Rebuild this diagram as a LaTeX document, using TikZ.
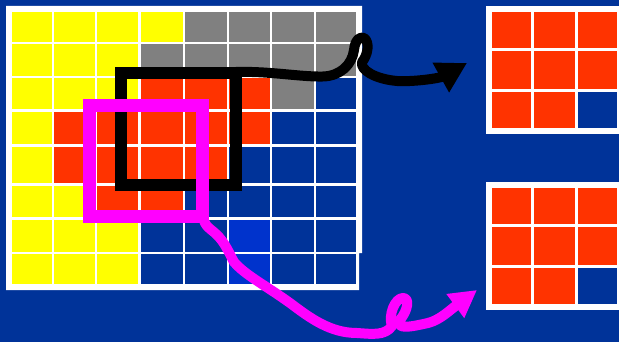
\documentclass[tikz,border=0pt]{standalone}
\usetikzlibrary{arrows.meta}
\definecolor{bg}{HTML}{003399}
\definecolor{cY}{HTML}{FFFF00}
\definecolor{cG}{HTML}{808080}
\definecolor{cR}{HTML}{FF3300}
\definecolor{cB}{HTML}{003399}
\definecolor{cL}{HTML}{0033CC}
\definecolor{mag}{HTML}{FF00FF}
\begin{document}
\begin{tikzpicture}[x=1pt,y=-1pt,
  blackbox/.style={draw=black,line width=12pt},
  magbox/.style={draw=mag,line width=13pt},
  blackcurve/.style={draw=black,line width=10pt,line cap=round,line join=round,-{Triangle[length=30pt,width=32pt]}},
  magcurve/.style={draw=mag,line width=10pt,line cap=round,line join=round,-{Triangle[length=27pt,width=28pt]}}]
\fill[bg] (0,0) rectangle (619,342);
\useasboundingbox (0,0) rectangle (619,342);
% left grid
\fill[white] (6,6) -- (362,6) -- (362,253) -- (359,253) -- (359,290) -- (6,290) -- cycle;
\foreach \r [count=\j from 0] in {{Y,Y,Y,Y,G,G,G,G},{Y,Y,Y,G,G,G,G,G},{Y,Y,Y,R,R,R,G,B},{Y,R,R,R,R,R,B,B},{Y,R,R,R,R,B,B,B},{Y,Y,R,R,B,B,B,B},{Y,Y,Y,B,B,L,B,B},{Y,Y,Y,B,B,L,B,B}}{
  \pgfmathsetmacro\yt{{12,44,78,112.3,146.7,186,220,254.3}[\j]}
  \pgfmathsetmacro\yb{{41.7,76,109.3,144,183.3,217.3,251.7,284}[\j]}
  \foreach \c [count=\i from 0] in \r {
    \pgfmathsetmacro\xl{{12,54,97.3,140.7,185,229,272.3,316.3}[\i]}
    \pgfmathsetmacro\xr{{51.7,95,138.3,182.7,226.7,270,314,356}[\i]}
    \fill[fill=c\c] (\xl,\yt) rectangle (\xr,\yb);
  }
}
% right grids
\foreach \oy in {0,176}{
  \fill[white] (486,6+\oy) rectangle (619,134+\oy);
  \foreach \r [count=\j from 0] in {{R,R,R},{R,R,R},{R,R,B}}{
    \pgfmathsetmacro\yt{{12,51,92}[\j]+\oy}
    \pgfmathsetmacro\yb{{48,89,128}[\j]+\oy}
    \foreach \c [count=\i from 0] in \r {
      \pgfmathsetmacro\xl{{492,534,578}[\i]}
      \pgfmathsetmacro\xr{{531,575,617}[\i]}
      \fill[fill=c\c] (\xl,\yt) rectangle (\xr,\yb);
    }
  }
}
% squares
\coordinate (bA) at (121,73);
\coordinate (bB) at (236,185);
\coordinate (mA) at (89.5,105.5);
\coordinate (mB) at (202.5,216.5);
\draw[blackbox] (bA) rectangle (bB);
% black connector
\coordinate (bstart) at (236,72);
\coordinate (btip) at (467,63);
\draw[blackcurve] (bstart) .. controls (270,71) and (300,77) .. (323,76.5)
  .. controls (340,76) and (352,65) .. (354,50)
  .. controls (355,40) and (360,36) .. (364,38)
  .. controls (370,42) and (368,55) .. (362,62)
  .. controls (360,70) and (375,79) .. (397,81)
  .. controls (415,82) and (440,78) .. (btip);
\draw[magbox] (mA) rectangle (mB);
% magenta connector
\coordinate (mstart) at (202,214);
\coordinate (mtip) at (477,290);
\draw[magcurve] (mstart) .. controls (205,228) and (210,228) .. (216,234)
  .. controls (225,242) and (230,255) .. (234,262)
  .. controls (245,275) and (265,285) .. (290,303)
  .. controls (310,318) and (330,333) .. (357,333)
  .. controls (372,334) and (385,336) .. (392,326)
  .. controls (388,315) and (395,298) .. (403,298)
  .. controls (410,298) and (408,310) .. (400,320)
  .. controls (396,330) and (410,327) .. (428,323)
  .. controls (440,320) and (450,310) .. (mtip);
\end{tikzpicture}
\end{document}
